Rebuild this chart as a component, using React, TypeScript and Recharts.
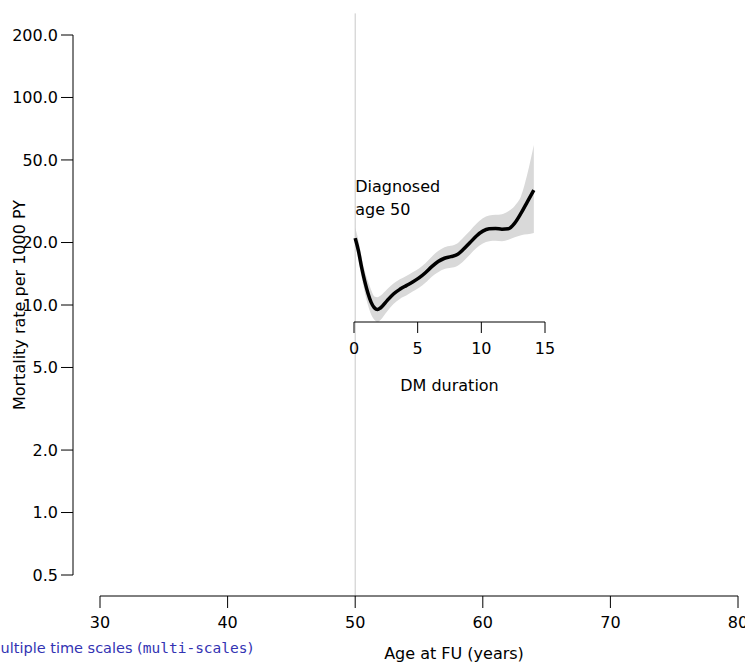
import React from "react";
import {
  ComposedChart,
  Area,
  Line,
  XAxis,
  YAxis,
  ReferenceLine,
  ReferenceDot,
} from "recharts";

// years since diagnosis
const durations = [
  0, 0.25, 0.5, 0.75, 1, 1.25, 1.5, 1.75, 2, 2.5, 3, 3.5, 4, 4.5, 5, 5.5, 6,
  6.5, 7, 7.5, 8, 8.5, 9, 9.5, 10, 10.5, 11, 11.5, 12, 12.5, 13, 13.5, 14,
];
// mortality rate per 1000 PY
const rateEstimate = [
  21.0, 18.3, 15.2, 13.0, 11.4, 10.3, 9.7, 9.5, 9.7, 10.5, 11.3, 11.9, 12.4,
  12.9, 13.5, 14.3, 15.3, 16.2, 16.8, 17.1, 17.5, 18.6, 20.0, 21.5, 22.7, 23.3,
  23.4, 23.2, 23.3, 24.8, 27.7, 31.5, 35.8,
];
const rateLower = [
  19.3, 16.5, 13.6, 11.5, 10.0, 9.0, 8.5, 8.3, 8.5, 9.3, 10.1, 10.7, 11.1,
  11.6, 12.1, 12.8, 13.7, 14.4, 14.9, 15.1, 15.4, 16.3, 17.5, 18.8, 19.8, 20.3,
  20.4, 20.3, 20.6, 21.2, 21.7, 21.9, 22.2,
];
const rateUpper = [
  23.6, 20.5, 17.0, 14.6, 13.0, 11.8, 11.0, 10.9, 11.1, 11.9, 12.7, 13.3, 13.8,
  14.4, 15.0, 15.9, 17.1, 18.2, 19.0, 19.3, 19.8, 21.2, 22.8, 24.6, 26.2, 27.0,
  27.2, 27.4, 28.3, 30.0, 33.5, 43.0, 59.0,
];

const diagnosisAge = 50;
const ageTicks = [30, 40, 50, 60, 70, 80];
const rateTicks = [0.5, 1, 2, 5, 10, 20, 50, 100, 200];
const durationTicks = [0, 5, 10, 15];

const rows = durations.map((d, i) => ({
  dur: d,
  age: diagnosisAge + d,
  est: rateEstimate[i],
  band: [rateLower[i], rateUpper[i]],
}));

const FONT = "DejaVu Sans";
const RATE_DOMAIN = [0.5, 200];
// R stretches the plot region 4% beyond the data range (log scale here)
const EXPAND = Math.pow(RATE_DOMAIN[1] / RATE_DOMAIN[0], 0.04);
const regionLo = RATE_DOMAIN[0] / EXPAND;
const regionHi = RATE_DOMAIN[1] * EXPAND;

const tickStyle = { fill: "#000", fontSize: 16, fontFamily: FONT };
const black = { stroke: "#000", strokeWidth: 1 };

const DiagnosedLabel = (props: any) => {
  const { x, y } = props.viewBox;
  return (
    <text x={x} y={y} fontSize={16} fill="#000" fontFamily={FONT}>
      <tspan x={x} dy={-8}>
        Diagnosed
      </tspan>
      <tspan x={x} dy={23}>
        {`age ${diagnosisAge}`}
      </tspan>
    </text>
  );
};

export default function App() {
  return (
    <div
      style={{
        position: "absolute",
        left: 0,
        top: 0,
        width: 745,
        height: 663,
        overflow: "hidden",
        background: "#fff",
        fontFamily: FONT,
      }}
    >
      <ComposedChart
        width={745}
        height={663}
        data={rows}
        margin={{ top: 35, right: 7, bottom: 0, left: 0 }}
      >
        {/* empty axes used as gaps so the drawn axes sit off the data like R */}
        <XAxis
          xAxisId="a_gap"
          type="number"
          domain={[0, 1]}
          height={21}
          tick={false}
          axisLine={false}
          tickLine={false}
        />
        <XAxis
          xAxisId="b_age"
          dataKey="age"
          type="number"
          domain={[30, 80]}
          ticks={ageTicks}
          interval={0}
          allowDataOverflow
          height={67}
          tickSize={12}
          tickMargin={9}
          tick={tickStyle}
          axisLine={black}
          tickLine={black}
          label={{
            value: "Age at FU (years)",
            position: "insideBottom",
            offset: 4,
            dx: 35,
            fill: "#000",
            fontSize: 16,
            fontFamily: FONT,
          }}
        />
        <YAxis
          yAxisId="a_gap"
          type="number"
          domain={[0, 1]}
          width={27}
          tick={false}
          axisLine={false}
          tickLine={false}
        />
        <YAxis
          yAxisId="b_rate"
          type="number"
          scale="log"
          domain={RATE_DOMAIN}
          ticks={rateTicks}
          interval={0}
          allowDataOverflow
          width={73}
          tickSize={12}
          tickMargin={3}
          tick={tickStyle}
          axisLine={black}
          tickLine={black}
          tickFormatter={(v: number) => v.toFixed(1)}
          label={{
            value: "Mortality rate per 1000 PY",
            angle: -90,
            position: "center",
            dx: -17.5,
            fill: "#000",
            fontSize: 16,
            fontFamily: FONT,
          }}
        />
        <ReferenceLine
          xAxisId="b_age"
          yAxisId="b_rate"
          segment={[
            { x: diagnosisAge, y: regionLo },
            { x: diagnosisAge, y: regionHi },
          ]}
          stroke="#C8C8C8"
          strokeWidth={1}
          ifOverflow="visible"
        />
        <Area
          xAxisId="b_age"
          yAxisId="b_rate"
          dataKey="band"
          type="monotone"
          stroke="none"
          fill="#D9D9D9"
          fillOpacity={1}
          isAnimationActive={false}
        />
        <Line
          xAxisId="b_age"
          yAxisId="b_rate"
          dataKey="est"
          type="monotone"
          stroke="#000"
          strokeWidth={3.5}
          dot={false}
          isAnimationActive={false}
        />
        <ReferenceDot
          xAxisId="b_age"
          yAxisId="b_rate"
          x={diagnosisAge}
          y={32}
          r={0}
          fill="none"
          stroke="none"
          label={<DiagnosedLabel />}
        />
      </ComposedChart>

      {/* inset duration axis under the curve */}
      <div style={{ position: "absolute", left: 344, top: 307 }}>
        <ComposedChart
          width={221}
          height={90}
          data={rows}
          margin={{ top: 0, right: 20, bottom: 0, left: 10 }}
        >
          <XAxis
            dataKey="dur"
            type="number"
            domain={[0, 15]}
            ticks={durationTicks}
            interval={0}
            allowDataOverflow
            height={75}
            tickSize={11}
            tickMargin={10}
            tick={tickStyle}
            axisLine={black}
            tickLine={black}
            label={{
              value: "DM duration",
              position: "insideBottom",
              offset: 6,
              fill: "#000",
              fontSize: 16,
              fontFamily: FONT,
            }}
          />
          <YAxis hide domain={[0, 1]} />
        </ComposedChart>
      </div>

      <div
        style={{
          position: "absolute",
          left: -12,
          top: 640,
          fontSize: 14.5,
          lineHeight: "16px",
          color: "#3333B3",
          whiteSpace: "nowrap",
          fontFamily: FONT,
        }}
      >
        Multiple time scales (
        <span style={{ fontFamily: "DejaVu Sans Mono" }}>multi-scales</span>)
      </div>
    </div>
  );
}
